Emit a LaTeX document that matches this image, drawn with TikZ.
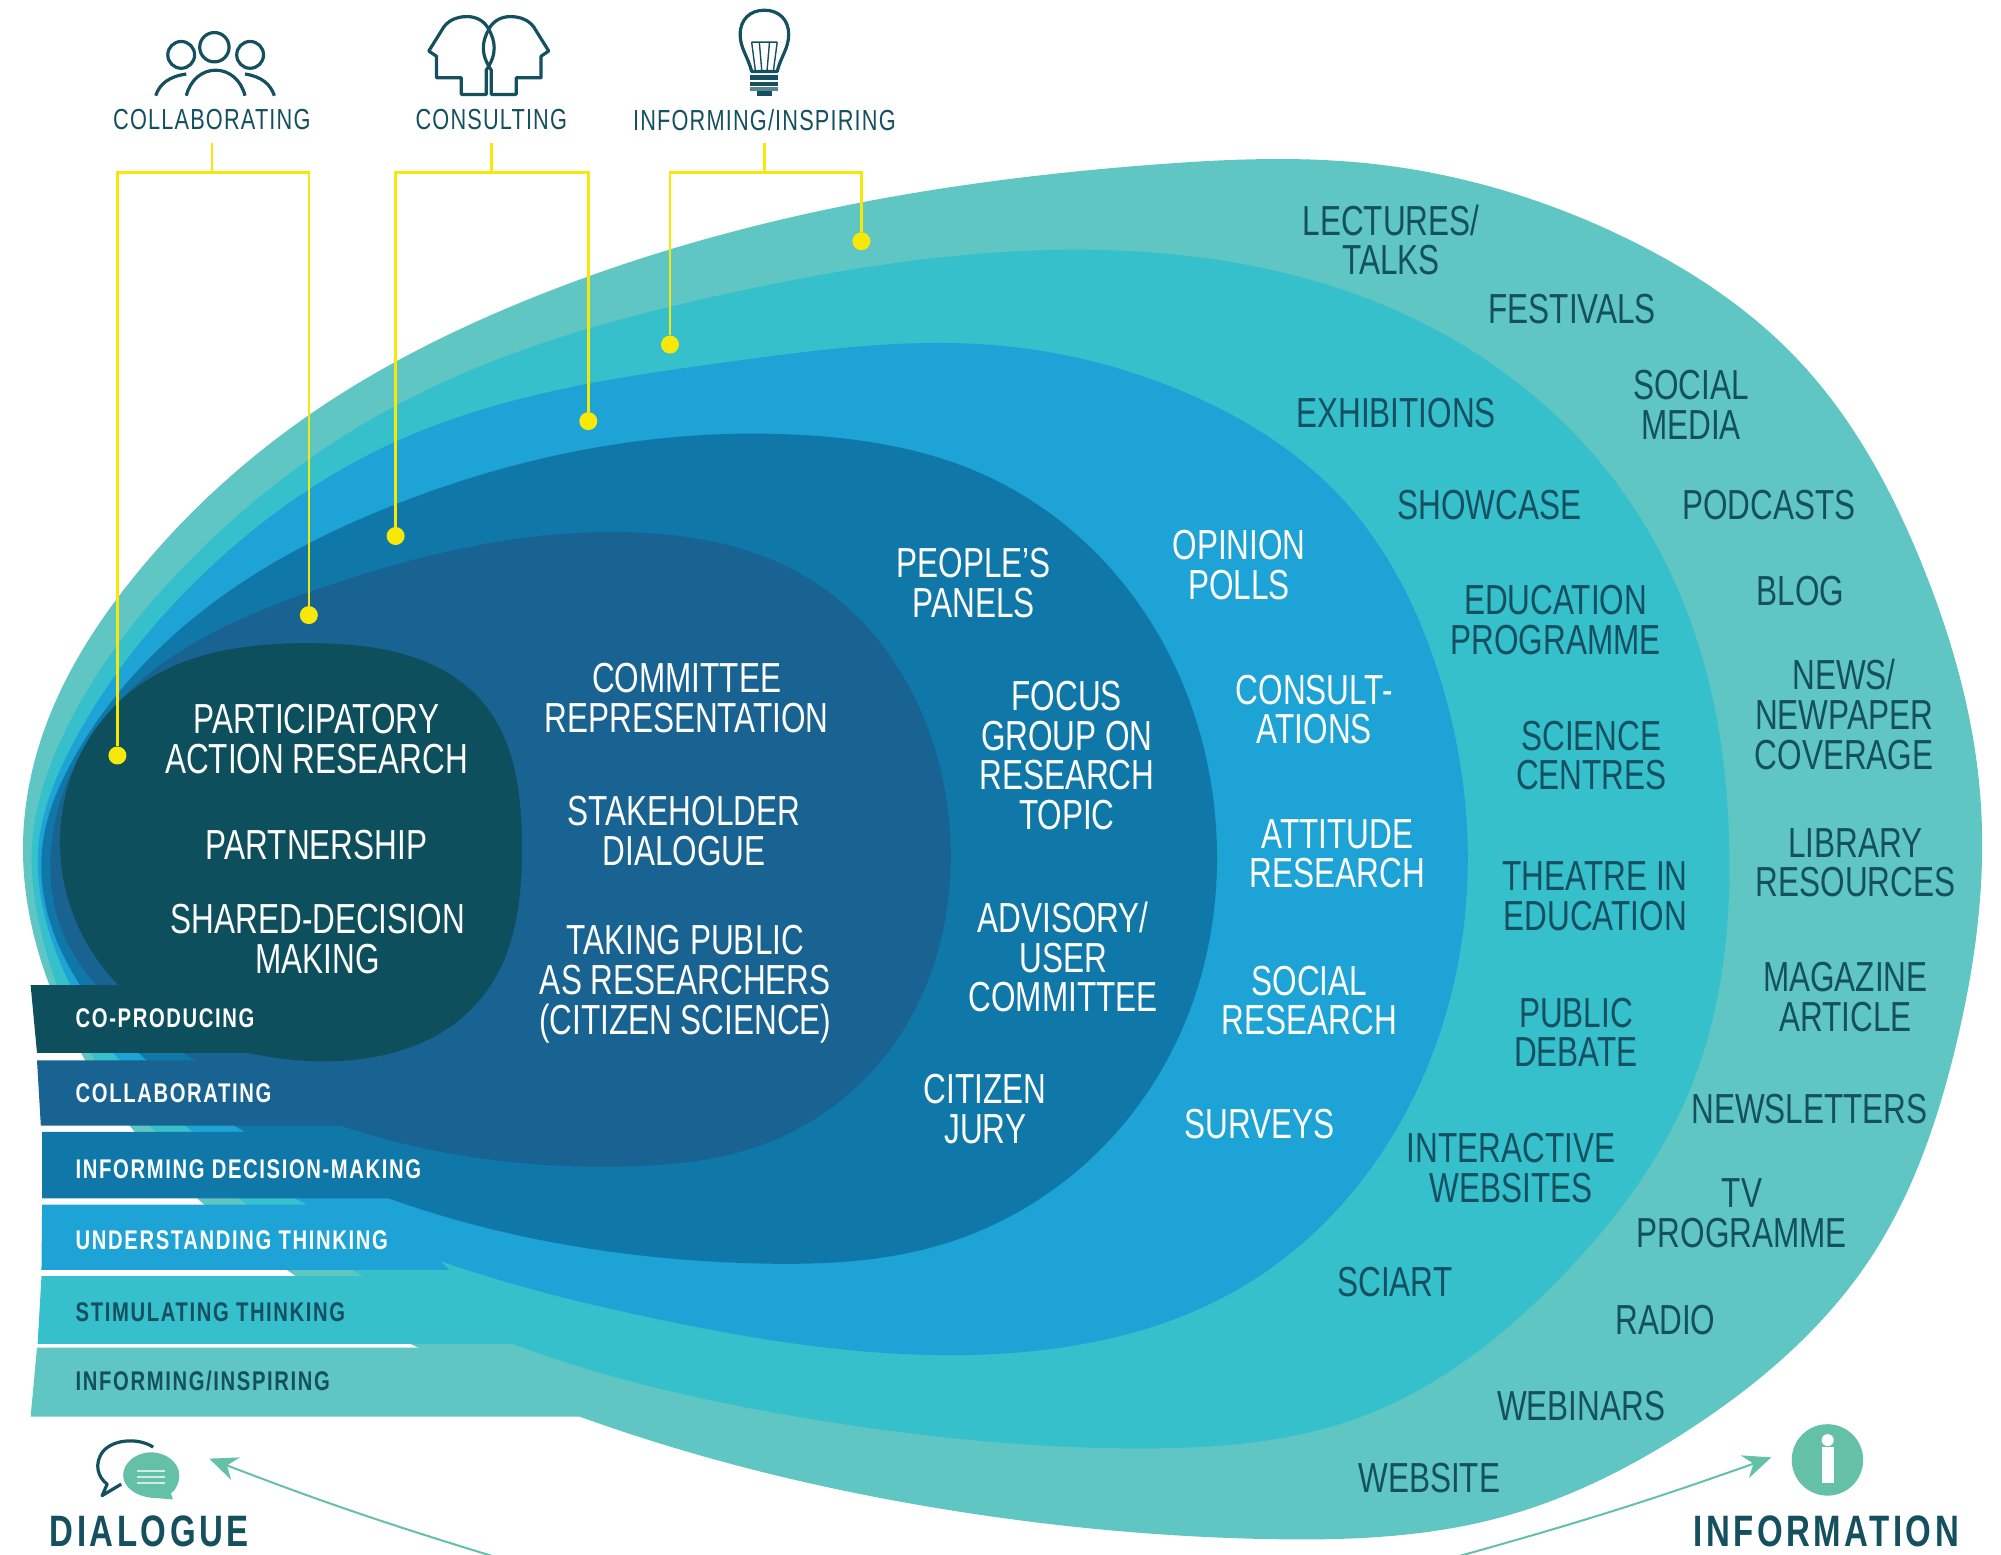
\documentclass[tikz,border=0pt]{standalone}
\usepackage{fontspec}
\setmainfont[FakeStretch=0.75]{Liberation Sans}
\usetikzlibrary{arrows.meta, hobby}

\definecolor{bandA}{HTML}{5FC6C3}
\definecolor{bandB}{HTML}{35C0CC}
\definecolor{bandC}{HTML}{1DA3D5}
\definecolor{bandD}{HTML}{1078A8}
\definecolor{bandE}{HTML}{186391}
\definecolor{bandF}{HTML}{0D4F5C}
\definecolor{inkdark}{HTML}{14505F}
\definecolor{markyellow}{HTML}{F7E80A}
\definecolor{arrowgreen}{HTML}{64C1A7}

\tikzset{
	lblwhite/.style={text=white, align=center, inner sep=0pt, font=\fontsize{21}{19.9}\selectfont},
	lbldark/.style={text=inkdark, align=center, inner sep=0pt, font=\fontsize{21}{19.9}\selectfont},
	barwhite/.style={text=white, anchor=west, inner sep=0pt, font=\fontsize{13.5}{14}\selectfont\bfseries\addfontfeatures{LetterSpace=6}},
	bardark/.style={text=inkdark, anchor=west, inner sep=0pt, font=\fontsize{13.5}{14}\selectfont\bfseries\addfontfeatures{LetterSpace=6}},
	toplbl/.style={text=inkdark, inner sep=0pt, font=\fontsize{14.5}{16}\selectfont\addfontfeatures{LetterSpace=4}},
	biglbl/.style={text=inkdark, inner sep=0pt, font=\fontsize{22}{24}\selectfont\bfseries\addfontfeatures{LetterSpace=8}},
	dot/.style={circle, fill=markyellow, inner sep=0pt, minimum size=9pt},
	bracket/.style={draw=markyellow, line width=1.3pt},
	icon/.style={draw=inkdark, line width=1.6pt, line join=round},
	sweep/.style={draw=arrowgreen, line width=1pt, -{Stealth[length=14pt,width=12pt]}},
	blob/.style={use Hobby shortcut, closed=true},
}

\begin{document}
\begin{tikzpicture}[x=0.638pt, y=-0.638pt]

	\useasboundingbox (0,0) rectangle (1568,1218);

	% bands, outermost first
	\fill [bandA, blob] (18,665) .. (35,571) .. (105,452) .. (241,326) .. (413,235) .. (673,159) .. (904,129) .. (1072,128) .. (1275,187) .. (1408,281) .. (1506,442) .. (1552,627) .. (1532,822) .. (1465,987) .. (1327,1118) .. (1176,1189) .. (992,1206) .. (742,1183) .. (454,1110) .. (229,998) .. (104,885) .. (38,770);
	\fill [bandA] (24,1110) -- (29,1056) -- (410,1056) -- (454,1110) -- cycle;

	\fill [bandB, blob] (25,665) .. (52,571) .. (157,431) .. (308,319) .. (575,229) .. (890,197) .. (1100,246) .. (1275,390) .. (1342,547) .. (1355,660) .. (1325,852) .. (1222,1002) .. (1067,1110) .. (892,1135) .. (642,1113) .. (404,1054) .. (191,942) .. (74,830) .. (31,725);
	\fill [bandB] (32.5,1000) -- (29.5,1053) -- (404,1053) -- (345,1000) -- cycle;

	\fill [bandC, blob] (30,665) .. (56,585) .. (157,452) .. (308,347) .. (575,283) .. (785,271) .. (925,306) .. (1051,390) .. (1128,530) .. (1150,660) .. (1110,855) .. (974,1008) .. (780,1061) .. (517,1034) .. (237,942) .. (93,830) .. (37,725);
	\fill [bandC] (33,944) -- (32.5,995) -- (352,995) -- (300,944) -- cycle;

	\fill [bandD, blob] (33,665) .. (59,592) .. (157,480) .. (308,396) .. (631,341) .. (771,372) .. (890,470) .. (953,650) .. (911,837) .. (742,974) .. (592,990) .. (310,941) .. (114,830) .. (40,725);
	\fill [bandD] (33,887) -- (33,939) -- (306,939) -- (250,887) -- cycle;

	\fill [bandE, blob] (40,665) .. (91,552) .. (245,463) .. (490,417) .. (638,456) .. (722,558) .. (745,665) .. (697,823) .. (592,899) .. (492,914) .. (273,884) .. (152,830) .. (47,725);
	\fill [bandE] (29,831) -- (32,882) -- (268,882) -- (200,831) -- cycle;

	\fill [bandF, blob] (47,660) .. (105,540) .. (245,504) .. (378,550) .. (409,660) .. (378,781) .. (225,830) .. (91,770);
	\fill [bandF] (24,772) -- (29,825) -- (200,825) -- (92,772) -- cycle;

	%%%%%%%%%%%%%%%%%%%%%%%%%%%%%%%%%%%%%%%%%%%%%%%%%%%%%%%%%%%%%%%%

	\node [lblwhite] (participatory) at (248,579) {PARTICIPATORY\\ACTION RESEARCH};
	\node [lblwhite] (partnership) at (248,662) {PARTNERSHIP};
	\node [lblwhite] (shared) at (249,736) {SHARED-DECISION\\MAKING};

	\node [lblwhite] (committee) at (538,547) {COMMITTEE\\REPRESENTATION};
	\node [lblwhite] (stakeholder) at (536,651) {STAKEHOLDER\\DIALOGUE};
	\node [lblwhite] (takingpublic) at (537,771) {TAKING PUBLIC\\AS RESEARCHERS\\(CITIZEN SCIENCE)};

	\node [lblwhite] (panels) at (763,457) {PEOPLE'S\\PANELS};
	\node [lblwhite] (focus) at (836,592) {FOCUS\\GROUP ON\\RESEARCH\\TOPIC};
	\node [lblwhite] (advisory) at (833,750) {ADVISORY/\\USER\\COMMITTEE};
	\node [lblwhite] (jury) at (772,869) {CITIZEN\\JURY};

	\node [lblwhite] (opinion) at (971,443) {OPINION\\POLLS};
	\node [lblwhite] (consult) at (1030,556) {CONSULT-\\ATIONS};
	\node [lblwhite] (attitude) at (1048,669) {ATTITUDE\\RESEARCH};
	\node [lblwhite] (social) at (1026,784) {SOCIAL\\RESEARCH};
	\node [lblwhite] (surveys) at (987,881) {SURVEYS};

	\node [lbldark] (exhibitions) at (1094,324) {EXHIBITIONS};
	\node [lbldark] (showcase) at (1167,396) {SHOWCASE};
	\node [lbldark] (education) at (1219,486) {EDUCATION\\PROGRAMME};
	\node [lbldark] (science) at (1247,592) {SCIENCE\\CENTRES};
	\node [lbldark] (theatre) at (1250,702) {THEATRE IN\\EDUCATION};
	\node [lbldark] (debate) at (1235,809) {PUBLIC\\DEBATE};
	\node [lbldark] (interactive) at (1184,915) {INTERACTIVE\\WEBSITES};
	\node [lbldark] (sciart) at (1093,1005) {SCIART};

	\node [lbldark] (lectures) at (1090,188) {LECTURES/\\TALKS};
	\node [lbldark] (festivals) at (1232,242) {FESTIVALS};
	\node [lbldark] (media) at (1325,317) {SOCIAL\\MEDIA};
	\node [lbldark] (podcasts) at (1386,396) {PODCASTS};
	\node [lbldark] (blog) at (1411,463) {BLOG};
	\node [lbldark] (news) at (1445,560) {NEWS/\\NEWPAPER\\COVERAGE};
	\node [lbldark] (library) at (1454,676) {LIBRARY\\RESOURCES};
	\node [lbldark] (magazine) at (1446,781) {MAGAZINE\\ARTICLE};
	\node [lbldark] (newsletters) at (1418,869) {NEWSLETTERS};
	\node [lbldark] (tv) at (1365,951) {TV\\PROGRAMME};
	\node [lbldark] (radio) at (1305,1034) {RADIO};
	\node [lbldark] (webinars) at (1239,1102) {WEBINARS};
	\node [lbldark] (website) at (1120,1158) {WEBSITE};

	\node [barwhite] (barco) at (59,798) {CO-PRODUCING};
	\node [barwhite] (barcollab) at (59,857) {COLLABORATING};
	\node [barwhite] (bardecision) at (59,916) {INFORMING DECISION-MAKING};
	\node [barwhite] (barthinking) at (59,972) {UNDERSTANDING THINKING};
	\node [bardark] (barstimulate) at (59,1028) {STIMULATING THINKING};
	\node [bardark] (barinspire) at (59,1082) {INFORMING/INSPIRING};

	%%%%%%%%%%%%%%%%%%%%%%%%%%%%%%%%%%%%%%%%%%%%%%%%%%%%%%%%%%%%%%%%

	\node [toplbl] (collab) at (166,94) {COLLABORATING};
	\node [toplbl] (consulting) at (385,94) {CONSULTING};
	\node [toplbl] (inspiring) at (599,94) {INFORMING/INSPIRING};

	\coordinate (collabbar) at (166,135);
	\coordinate (consultbar) at (385,135);
	\coordinate (inspirebar) at (599,135);

	\node [dot] (dotcoa) at (92,592) {};
	\node [dot] (dotcob) at (242,482) {};
	\node [dot] (dotcona) at (310,420) {};
	\node [dot] (dotconb) at (461,330) {};
	\node [dot] (dotinsa) at (525,270) {};
	\node [dot] (dotinsb) at (675,189) {};

	\draw [bracket] (collab) ++(0,18) -- (collabbar);
	\draw [bracket] (consulting) ++(0,18) -- (consultbar);
	\draw [bracket] (inspiring) ++(0,18) -- (inspirebar);
	\draw [bracket] (dotcoa) |- (collabbar) -| (dotcob);
	\draw [bracket] (dotcona) |- (consultbar) -| (dotconb);
	\draw [bracket] (dotinsa) |- (inspirebar) -| (dotinsb);

	% people
	\draw [icon] (142,43) circle [radius=10.5];
	\draw [icon] (168,37) circle [radius=11.5];
	\draw [icon] (196,43) circle [radius=10.5];
	\draw [icon] (146,75) .. controls (149,63) and (158,55) .. (169,55) .. controls (180,55) and (189,63) .. (192,75);
	\draw [icon] (122,75) .. controls (125,66) and (132,60) .. (146,58);
	\draw [icon] (215,75) .. controls (212,66) and (205,60) .. (192,58);

	% heads
	\draw [icon] (381,74) -- (361.5,74) -- (361.5,61) -- (342,61) -- (342,44) -- (336,40) -- (346,24) .. controls (350,16) and (358,13) .. (366,13) .. controls (374,13) and (380,17) .. (383,23) .. controls (388,32) and (390,42) .. (381,55) -- cycle;
	\draw [icon] (385,74) -- (404.5,74) -- (404.5,61) -- (424,61) -- (424,44) -- (430,40) -- (420,24) .. controls (416,16) and (408,13) .. (400,13) .. controls (392,13) and (386,17) .. (383,23) .. controls (378,32) and (376,42) .. (385,55) -- cycle;

	% bulb
	\draw [icon] (589,56) .. controls (586,44) and (580,38) .. (580,27) .. controls (580,15) and (588,8) .. (599,8) .. controls (610,8) and (618,15) .. (618,27) .. controls (618,38) and (612,44) .. (609,56) -- cycle;
	\draw [icon, line width=0.7pt] (592,56) -- (589,33) (597,56) -- (595,33) (601,56) -- (603,33) (606,56) -- (609,33) (589,33) -- (609,33);
	\fill [inkdark] (588,59) rectangle (610,62.5);
	\fill [inkdark] (588,64.5) rectangle (610,67);
	\fill [inkdark!70] (588,68.5) rectangle (610,71.5);
	\fill [inkdark] (593,71.5) rectangle (605,75);

	% bubbles
	\draw [icon] (120,1134) .. controls (110,1127) and (90,1127) .. (81,1137) .. controls (73,1147) and (77,1158) .. (84,1163) -- (80,1172) -- (95,1163);
	\fill [arrowgreen] (118.4,1138) .. controls (130,1138) and (140.5,1146) .. (140.5,1156) .. controls (140.5,1164) and (136,1169) .. (134,1170) -- (135.5,1175) -- (124,1174) .. controls (108,1174) and (96.5,1166) .. (96.5,1156) .. controls (96.5,1146) and (107,1138) .. (118.4,1138) -- cycle;
	\draw [white!70!arrowgreen, line width=1pt] (107,1153) -- (129,1153) (107,1157.5) -- (129,1157.5) (107,1162) -- (129,1162);

	% info
	\fill [arrowgreen] (1432,1144) circle [radius=28];
	\fill [white] (1427.5,1134) rectangle (1437,1162);
	\fill [white] (1432.2,1128.5) circle [radius=4.7];

	\node [biglbl] (dialogue) at (117,1200) {DIALOGUE};
	\node [biglbl] (information) at (1431,1200) {INFORMATION};

	\coordinate (dialoguetip) at (164,1143);
	\coordinate (dialoguetail) at (388,1220);
	\coordinate (infotip) at (1388,1142);
	\coordinate (infotail) at (1141,1220);
	\draw [sweep] (dialoguetail) to [bend left=2] (dialoguetip);
	\draw [sweep] (infotail) to [bend right=2] (infotip);

\end{tikzpicture}
\end{document}
